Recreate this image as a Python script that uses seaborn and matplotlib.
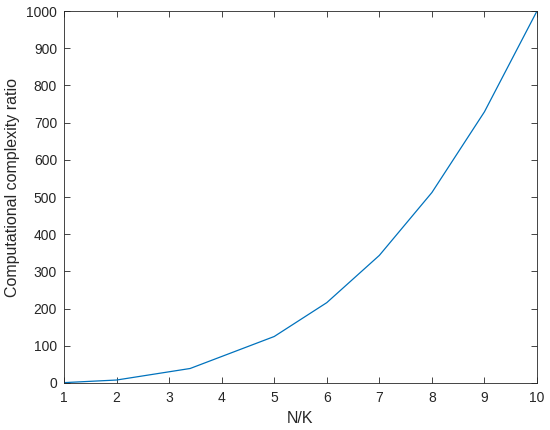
import numpy as np
import pandas as pd
import seaborn as sns
import matplotlib.pyplot as plt

sns.set_style("ticks")
plt.rcParams['font.family'] = ['Liberation Sans', 'DejaVu Sans']

# values
nk_ratio = [1, 2, 3.4, 5, 6, 7, 8, 9, 10]
complexity_ratio = [1, 8, 39, 125, 216, 343, 512, 729, 1000]

df = pd.DataFrame({'N/K': nk_ratio, 'ratio': complexity_ratio})

fig = plt.figure(figsize=(5.5, 4.3), dpi=100)
ax = fig.add_axes([64 / 550, 1 - 383 / 430, 473 / 550, 372 / 430])
sns.lineplot(data=df, x='N/K', y='ratio', color='#0072BD', linewidth=0.9, ax=ax)

ax.set_xlim(1, 10)
ax.set_ylim(0, 1000)
ax.set_xticks(range(1, 11))
ax.set_yticks(range(0, 1001, 100))
ax.set_xlabel('N/K', fontsize=11.5, color='#262626', labelpad=4)
ax.set_ylabel('Computational complexity ratio', fontsize=11.5, color='#262626')
ax.yaxis.set_label_coords(-0.094, 0.525)

for side in ['top', 'right', 'left', 'bottom']:
    ax.spines[side].set_visible(True)
    ax.spines[side].set_color('#262626')
    ax.spines[side].set_linewidth(0.6)
ax.tick_params(direction='in', top=True, right=True, length=4, width=0.6,
               colors='#262626', labelsize=10, pad=5)
ax.tick_params(axis='x', pad=6)

fig.savefig('out.png', dpi=100)
